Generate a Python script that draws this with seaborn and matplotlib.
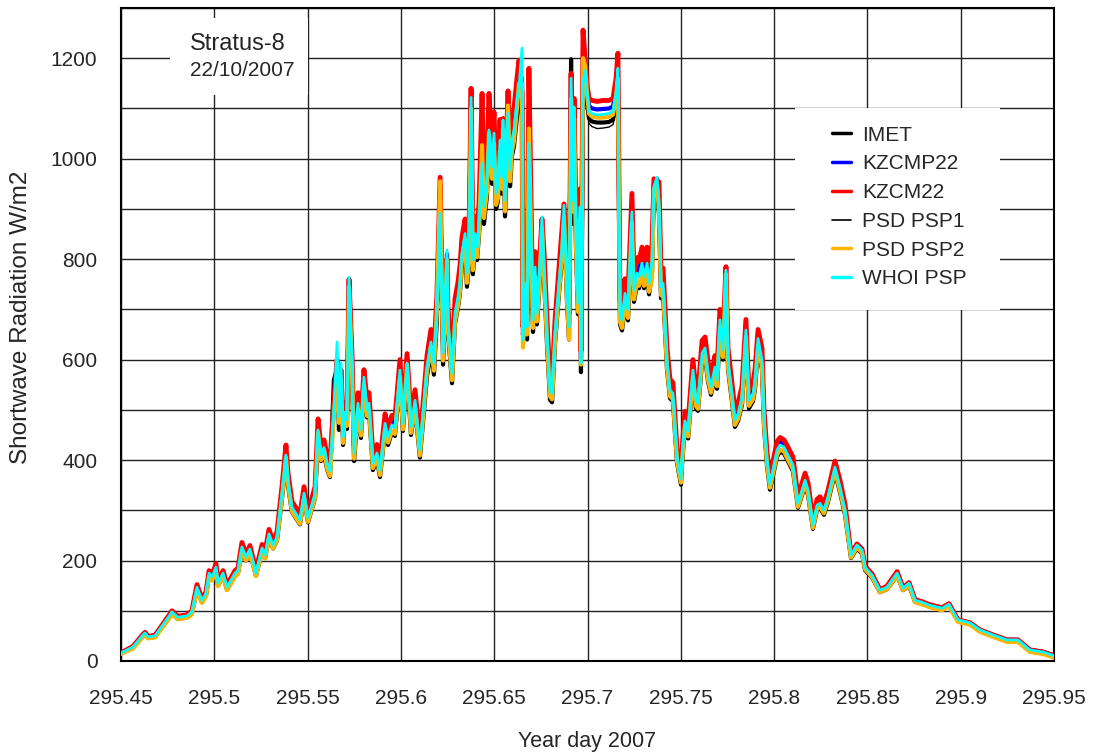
import matplotlib
matplotlib.use("Agg")
import matplotlib.pyplot as plt
import numpy as np
import pandas as pd
import seaborn as sns
from matplotlib.patches import Rectangle
from matplotlib.ticker import MultipleLocator

# year day 2007 (sample times)
day = [
    295.4500, 295.4564, 295.4618, 295.4629, 295.4645, 295.4682, 295.4763, 295.4773, 295.4805, 295.4854,
    295.4880, 295.4907, 295.4934, 295.4956, 295.4972, 295.4988, 295.5009, 295.5020, 295.5047, 295.5068,
    295.5111, 295.5127, 295.5148, 295.5170, 295.5191, 295.5223, 295.5256, 295.5272, 295.5293, 295.5315,
    295.5336, 295.5363, 295.5384, 295.5395, 295.5416, 295.5459, 295.5481, 295.5502, 295.5540, 295.5556,
    295.5572, 295.5588, 295.5604, 295.5620, 295.5641, 295.5658, 295.5668, 295.5679, 295.5690, 295.5700,
    295.5711, 295.5722, 295.5738, 295.5749, 295.5770, 295.5786, 295.5802, 295.5818, 295.5829, 295.5850,
    295.5872, 295.5888, 295.5915, 295.5931, 295.5952, 295.5968, 295.5995, 295.6011, 295.6033, 295.6054,
    295.6076, 295.6102, 295.6140, 295.6161, 295.6177, 295.6193, 295.6210, 295.6226, 295.6247, 295.6252,
    295.6274, 295.6290, 295.6306, 295.6317, 295.6327, 295.6344, 295.6354, 295.6365, 295.6376, 295.6386,
    295.6397, 295.6408, 295.6419, 295.6435, 295.6445, 295.6461, 295.6472, 295.6488, 295.6499, 295.6510,
    295.6520, 295.6531, 295.6542, 295.6547, 295.6558, 295.6574, 295.6585, 295.6595, 295.6606, 295.6622,
    295.6633, 295.6649, 295.6654, 295.6670, 295.6676, 295.6686, 295.6703, 295.6708, 295.6719, 295.6729,
    295.6740, 295.6756, 295.6767, 295.6783, 295.6799, 295.6810, 295.6826, 295.6847, 295.6863, 295.6874,
    295.6890, 295.6901, 295.6912, 295.6922, 295.6928, 295.6938, 295.6949, 295.6960, 295.6965, 295.6976,
    295.6987, 295.6997, 295.7008, 295.7024, 295.7051, 295.7083, 295.7115, 295.7137, 295.7153, 295.7163,
    295.7174, 295.7185, 295.7201, 295.7217, 295.7238, 295.7249, 295.7265, 295.7276, 295.7292, 295.7303,
    295.7319, 295.7330, 295.7346, 295.7356, 295.7372, 295.7383, 295.7394, 295.7405, 295.7426, 295.7442,
    295.7458, 295.7469, 295.7480, 295.7501, 295.7506, 295.7522, 295.7539, 295.7565, 295.7581, 295.7592,
    295.7614, 295.7630, 295.7646, 295.7662, 295.7683, 295.7694, 295.7710, 295.7726, 295.7742, 295.7753,
    295.7774, 295.7790, 295.7807, 295.7828, 295.7849, 295.7865, 295.7887, 295.7898, 295.7914, 295.7935,
    295.7946, 295.7962, 295.7978, 295.7999, 295.8016, 295.8032, 295.8053, 295.8074, 295.8101, 295.8128,
    295.8166, 295.8182, 295.8208, 295.8230, 295.8246, 295.8267, 295.8289, 295.8326, 295.8353, 295.8380,
    295.8412, 295.8444, 295.8471, 295.8487, 295.8525, 295.8567, 295.8605, 295.8659, 295.8691, 295.8723,
    295.8755, 295.8793, 295.8835, 295.8900, 295.8937, 295.8985, 295.9050, 295.9103, 295.9173, 295.9248,
    295.9307, 295.9371, 295.9441, 295.9489, 295.9500,
]

imet = [
    15, 27, 50, 54, 46, 48, 89, 95, 84, 87,
    95, 142, 117, 131, 170, 162, 181, 150, 170, 142,
    170, 175, 220, 200, 216, 170, 218, 205, 245, 224,
    240, 324, 398, 349, 297, 272, 324, 276, 324, 446,
    398, 412, 382, 366, 560, 580, 460, 575, 430, 480,
    462, 755, 575, 398, 498, 444, 548, 485, 498, 380,
    400, 366, 459, 430, 456, 448, 562, 458, 575, 450,
    503, 405, 567, 616, 570, 680, 950, 590, 790, 655,
    553, 672, 703, 735, 787, 825, 745, 790, 1120, 770,
    825, 798, 850, 960, 870, 925, 1025, 950, 1020, 900,
    915, 1005, 930, 1045, 885, 1058, 945, 1005, 1025, 1083,
    1108, 1150, 700, 730, 640, 1000, 735, 655, 760, 670,
    730, 857, 760, 630, 520, 515, 633, 730, 800, 880,
    715, 640, 1198, 870, 1070, 825, 690, 877, 575, 1120,
    1150, 1110, 1080, 1074, 1072, 1072, 1073, 1078, 1110, 1150,
    670, 658, 710, 678, 867, 715, 749, 742, 768, 742,
    768, 730, 775, 950, 935, 890, 722, 730, 581, 523,
    517, 452, 394, 351, 388, 464, 443, 562, 503, 498,
    595, 604, 556, 530, 567, 542, 660, 600, 765, 581,
    517, 466, 478, 510, 639, 503, 517, 542, 623, 581,
    466, 388, 341, 378, 407, 417, 413, 398, 378, 305,
    349, 330, 263, 301, 305, 291, 317, 374, 336, 291,
    205, 224, 214, 181, 166, 137, 143, 170, 141, 150,
    118, 114, 108, 103, 111, 81, 75, 61, 52, 42,
    42, 22, 18, 12, 10,
]

kzcmp22 = [
    16, 28, 53, 57, 49, 51, 93, 99, 88, 91,
    99, 149, 123, 137, 178, 170, 190, 157, 178, 149,
    178, 183, 230, 210, 226, 178, 228, 214, 257, 234,
    251, 339, 416, 365, 311, 285, 339, 289, 339, 467,
    416, 431, 400, 384, 508, 590, 493, 575, 453, 502,
    487, 760, 602, 420, 521, 467, 573, 508, 521, 400,
    420, 386, 480, 453, 477, 471, 588, 480, 602, 473,
    527, 426, 594, 645, 602, 710, 940, 622, 810, 689,
    582, 703, 736, 769, 823, 864, 784, 830, 1125, 810,
    864, 836, 890, 1060, 918, 971, 1090, 998, 1067, 945,
    958, 1053, 977, 1070, 931, 1110, 992, 1053, 1073, 1134,
    1170, 1160, 649, 763, 675, 1110, 769, 689, 796, 702,
    763, 880, 796, 663, 547, 541, 663, 763, 836, 905,
    749, 675, 1165, 931, 1110, 864, 723, 918, 602, 1220,
    1190, 1140, 1105, 1100, 1098, 1099, 1100, 1104, 1140, 1190,
    702, 689, 743, 709, 907, 749, 784, 776, 804, 776,
    804, 763, 810, 950, 960, 931, 756, 763, 608, 547,
    541, 473, 412, 367, 406, 485, 465, 588, 527, 521,
    622, 632, 582, 554, 594, 567, 689, 628, 780, 608,
    541, 487, 500, 534, 669, 527, 541, 567, 652, 608,
    487, 406, 357, 396, 426, 436, 432, 416, 396, 319,
    365, 345, 275, 315, 319, 305, 332, 392, 351, 305,
    213, 233, 223, 189, 173, 142, 148, 177, 146, 156,
    122, 118, 112, 106, 114, 82, 76, 62, 52, 42,
    42, 22, 18, 12, 10,
]

kzcm22 = [
    16, 29, 53, 57, 49, 51, 94, 100, 89, 92,
    100, 152, 124, 138, 180, 171, 194, 159, 180, 151,
    180, 185, 236, 213, 230, 180, 232, 217, 262, 238,
    257, 348, 430, 374, 318, 292, 347, 296, 347, 482,
    426, 440, 410, 393, 520, 600, 505, 580, 464, 515,
    499, 760, 610, 431, 534, 478, 580, 520, 534, 410,
    431, 395, 492, 464, 489, 483, 600, 492, 612, 485,
    540, 437, 608, 660, 617, 728, 963, 638, 800, 706,
    596, 721, 754, 788, 843, 880, 803, 851, 1140, 830,
    885, 857, 912, 1130, 940, 995, 1130, 1022, 1093, 968,
    982, 1078, 1002, 1080, 954, 1135, 1016, 1078, 1099, 1160,
    1196, 1130, 665, 782, 692, 1180, 788, 706, 815, 720,
    780, 880, 815, 679, 560, 554, 679, 782, 857, 910,
    768, 692, 1170, 954, 1120, 885, 740, 940, 617, 1256,
    1200, 1150, 1120, 1116, 1114, 1116, 1116, 1120, 1160, 1210,
    720, 706, 761, 727, 931, 768, 803, 796, 824, 796,
    824, 782, 830, 960, 955, 954, 775, 782, 623, 561,
    554, 485, 422, 376, 416, 497, 476, 600, 540, 534,
    638, 645, 596, 568, 608, 581, 700, 644, 785, 623,
    554, 499, 513, 547, 680, 540, 554, 581, 660, 623,
    499, 416, 366, 406, 437, 445, 440, 426, 406, 327,
    374, 354, 282, 322, 327, 312, 340, 398, 360, 312,
    213, 233, 223, 189, 173, 142, 149, 178, 146, 156,
    122, 118, 112, 106, 114, 82, 76, 62, 52, 42,
    42, 22, 18, 12, 10,
]

psd_psp1 = [
    17, 29, 53, 57, 49, 51, 92, 97, 87, 89,
    96, 143, 118, 132, 171, 163, 182, 151, 171, 143,
    171, 175, 221, 202, 217, 171, 219, 206, 247, 225,
    241, 326, 400, 351, 298, 274, 326, 278, 326, 448,
    400, 414, 384, 369, 520, 590, 474, 578, 435, 483,
    468, 745, 578, 404, 500, 449, 551, 488, 500, 384,
    404, 371, 461, 435, 458, 452, 565, 461, 578, 454,
    506, 410, 570, 619, 578, 690, 900, 598, 798, 662,
    559, 676, 707, 739, 791, 830, 753, 798, 1110, 778,
    830, 804, 855, 970, 881, 933, 1035, 958, 1025, 908,
    920, 1011, 939, 1050, 894, 1065, 953, 1011, 1031, 1089,
    1113, 1180, 623, 733, 648, 1005, 739, 662, 764, 675,
    733, 862, 764, 637, 526, 520, 637, 733, 803, 884,
    720, 648, 1150, 894, 1075, 830, 694, 881, 578, 1130,
    1150, 1100, 1070, 1064, 1060, 1061, 1063, 1068, 1100, 1150,
    675, 662, 714, 682, 872, 720, 753, 746, 772, 746,
    772, 733, 778, 940, 940, 894, 726, 733, 584, 526,
    520, 454, 396, 353, 390, 466, 446, 565, 506, 500,
    598, 607, 559, 532, 570, 545, 662, 604, 770, 584,
    520, 468, 481, 513, 643, 506, 520, 545, 626, 584,
    468, 390, 343, 380, 410, 419, 415, 400, 380, 306,
    351, 332, 264, 302, 306, 293, 319, 376, 337, 293,
    208, 228, 218, 185, 169, 140, 146, 174, 144, 154,
    121, 117, 111, 105, 113, 82, 76, 62, 52, 42,
    42, 23, 19, 13, 11,
]

psd_psp2 = [
    14, 25, 48, 52, 45, 47, 87, 93, 83, 86,
    93, 140, 116, 129, 168, 160, 180, 149, 168, 141,
    168, 173, 220, 200, 216, 169, 218, 204, 245, 224,
    240, 325, 405, 352, 298, 273, 325, 277, 325, 455,
    400, 420, 384, 368, 488, 570, 474, 560, 434, 483,
    468, 745, 578, 403, 500, 449, 551, 488, 500, 384,
    404, 370, 461, 435, 458, 452, 565, 461, 590, 454,
    506, 409, 577, 625, 578, 700, 955, 598, 798, 662,
    559, 676, 707, 739, 800, 840, 753, 798, 1100, 778,
    830, 804, 855, 1027, 882, 935, 1051, 960, 1030, 908,
    921, 1015, 940, 1060, 895, 1106, 955, 1015, 1035, 1100,
    1150, 1150, 624, 735, 650, 1060, 740, 663, 765, 676,
    735, 862, 765, 638, 527, 521, 638, 735, 805, 885,
    720, 640, 1120, 895, 1080, 830, 695, 882, 590, 1200,
    1185, 1130, 1090, 1084, 1082, 1082, 1083, 1088, 1125, 1160,
    675, 663, 715, 683, 873, 720, 754, 747, 773, 747,
    773, 735, 760, 940, 950, 895, 728, 735, 585, 527,
    521, 456, 397, 355, 392, 468, 447, 566, 508, 502,
    599, 609, 560, 534, 572, 547, 664, 605, 770, 585,
    521, 470, 482, 514, 645, 508, 521, 547, 628, 585,
    470, 392, 345, 382, 411, 421, 417, 401, 382, 307,
    352, 333, 265, 303, 307, 294, 320, 378, 339, 294,
    206, 226, 216, 183, 167, 137, 143, 170, 141, 151,
    117, 113, 107, 101, 109, 78, 72, 58, 48, 38,
    38, 18, 14, 8, 6,
]

whoi_psp = [
    16, 28, 52, 56, 48, 50, 92, 98, 87, 90,
    98, 147, 121, 135, 175, 167, 187, 155, 175, 147,
    175, 180, 227, 207, 223, 175, 225, 211, 253, 231,
    247, 334, 410, 360, 306, 281, 334, 285, 334, 460,
    410, 425, 394, 378, 500, 635, 486, 593, 446, 495,
    480, 764, 593, 414, 513, 460, 565, 500, 513, 394,
    414, 380, 473, 446, 470, 464, 579, 473, 593, 466,
    519, 420, 585, 635, 593, 700, 891, 613, 818, 679,
    573, 693, 725, 758, 811, 851, 772, 818, 1122, 798,
    851, 824, 877, 991, 904, 957, 1057, 983, 1051, 931,
    944, 1037, 963, 1077, 917, 1091, 977, 1037, 1057, 1117,
    1142, 1220, 639, 752, 665, 1030, 758, 679, 784, 692,
    752, 884, 784, 653, 539, 533, 653, 752, 824, 907,
    738, 665, 1160, 917, 1103, 851, 712, 904, 593, 1150,
    1176, 1136, 1095, 1090, 1087, 1088, 1090, 1095, 1130, 1180,
    692, 679, 732, 699, 894, 738, 772, 765, 792, 765,
    792, 752, 798, 944, 963, 917, 745, 752, 599, 539,
    533, 466, 406, 362, 400, 478, 458, 579, 519, 513,
    613, 623, 573, 546, 585, 559, 679, 619, 778, 599,
    533, 480, 493, 526, 659, 519, 533, 559, 642, 599,
    480, 400, 352, 390, 420, 430, 426, 410, 390, 314,
    360, 340, 271, 310, 314, 300, 327, 386, 346, 300,
    211, 231, 221, 187, 171, 141, 147, 175, 145, 155,
    121, 117, 111, 105, 113, 82, 76, 62, 52, 42,
    42, 22, 18, 12, 10,
]

sensors = ["IMET", "KZCMP22", "KZCM22", "PSD PSP1", "PSD PSP2", "WHOI PSP"]
x_ticks = [295.45, 295.5, 295.55, 295.6, 295.65, 295.7, 295.75, 295.8, 295.85, 295.9, 295.95]
x_labels = ["295.45", "295.5", "295.55", "295.6", "295.65", "295.7",
            "295.75", "295.8", "295.85", "295.9", "295.95"]
y_ticks = [0, 200, 400, 600, 800, 1000, 1200]

df = pd.DataFrame({"day": day, "IMET": imet, "KZCMP22": kzcmp22, "KZCM22": kzcm22,
                   "PSD PSP1": psd_psp1, "PSD PSP2": psd_psp2, "WHOI PSP": whoi_psp})

colors = {"IMET": "black", "KZCMP22": "#0000ff", "KZCM22": "#ff0000",
          "PSD PSP1": "black", "PSD PSP2": "#ffb400", "WHOI PSP": "#00ffff"}
widths = {"IMET": 3.0, "KZCMP22": 3.0, "KZCM22": 3.5,
          "PSD PSP1": 1.0, "PSD PSP2": 3.0, "WHOI PSP": 2.0}

sns.set_style("white")
plt.rcParams["font.family"] = ["Liberation Sans", "DejaVu Sans"]

fig = plt.figure(figsize=(10.96, 7.53), dpi=100)
ax = fig.add_axes([121 / 1096, 1 - 661 / 753, 933 / 1096, 653 / 753])

for name in sensors:
    sns.lineplot(data=df, x="day", y=name, ax=ax, color=colors[name], lw=widths[name],
                 label=name, estimator=None, sort=False, zorder=3)

ax.set_xlim(295.45, 295.95)
ax.set_ylim(0, 1300)
ax.set_xticks(x_ticks)
ax.set_xticklabels(x_labels)
ax.set_yticks(y_ticks)
ax.yaxis.set_minor_locator(MultipleLocator(100))
ax.grid(True, which="both", axis="y", color="#222222", lw=1.0)
ax.grid(True, which="major", axis="x", color="#222222", lw=1.0)
ax.set_axisbelow(True)
ax.tick_params(axis="both", which="both", length=0, labelsize=15)
ax.tick_params(axis="x", pad=20)
ax.tick_params(axis="y", pad=17)
for sp in ax.spines.values():
    sp.set_color("black")
    sp.set_linewidth(1.5)

ax.set_xlabel("Year day 2007", fontsize=15.5, labelpad=17)
ax.set_ylabel("Shortwave Radiation W/m2", fontsize=17.5, labelpad=13)
ax.yaxis.label.set_y(0.527)

# title box
ax.add_patch(Rectangle((0.0525, 0.867), 0.148, 0.118, transform=ax.transAxes,
                       facecolor="white", edgecolor="none", zorder=4))
ax.text(0.1254, 0.945, "Stratus-8", transform=ax.transAxes, fontsize=17,
        ha="center", va="center", zorder=5)
ax.text(0.1297, 0.905, "22/10/2007", transform=ax.transAxes, fontsize=15,
        ha="center", va="center", zorder=5)

# legend box
ax.add_patch(Rectangle((0.7224, 0.5375), 0.2197, 0.3093, transform=ax.transAxes,
                       facecolor="white", edgecolor="none", zorder=4))
leg = ax.legend(loc="upper left", bbox_to_anchor=(0.762, 0.820), fontsize=15,
                frameon=False, borderpad=0, labelspacing=0.47, handlelength=0.9,
                handletextpad=0.55, borderaxespad=0)
leg.set_zorder(6)
for line in leg.get_lines():
    line.set_linewidth(2.5 if line.get_label() != "PSD PSP1" else 1.2)

fig.savefig("out.png", dpi=100)
